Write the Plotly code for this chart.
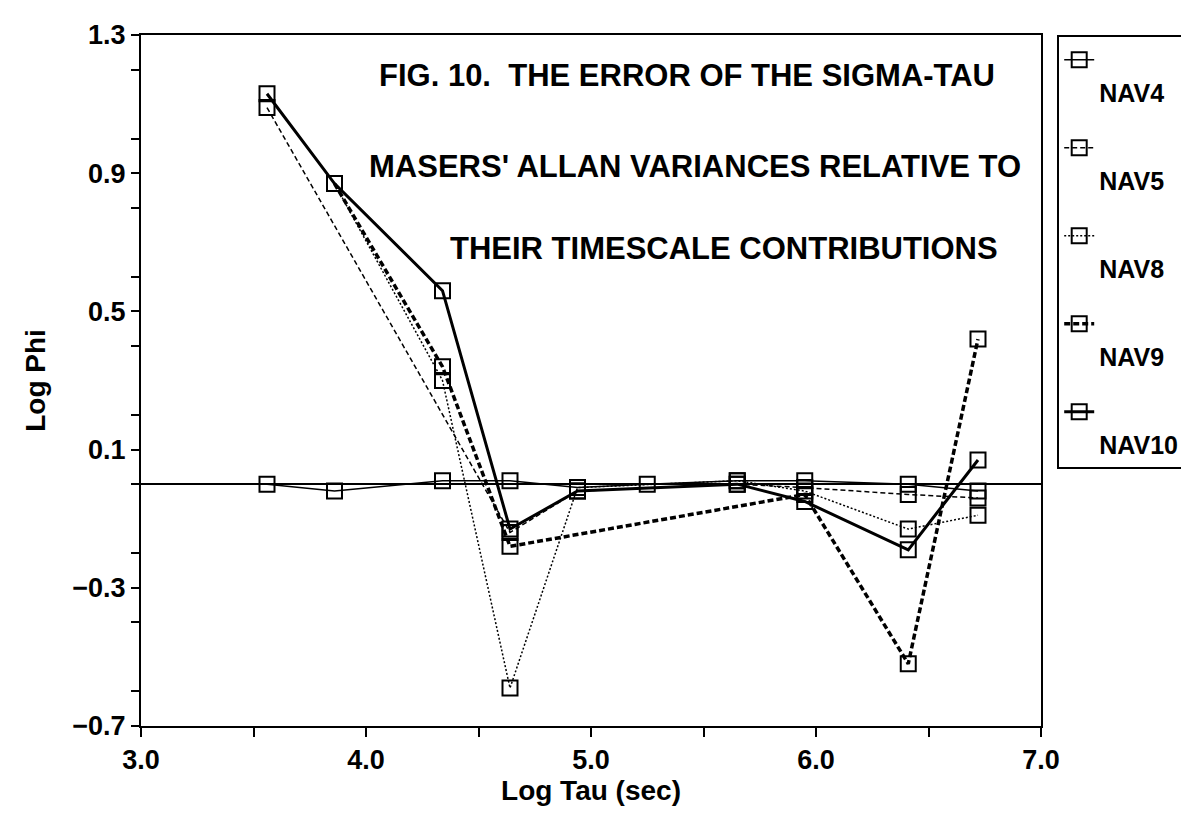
import plotly.graph_objects as go

# ---- data ----
LOG_TAU = [3.56, 3.86, 4.34, 4.64, 4.94, 5.25, 5.65, 5.95, 6.41, 6.72]

NAV4 = [0.00, -0.02, 0.01, 0.01, -0.01, 0.00, 0.01, 0.01, 0.00, -0.02]
NAV5 = [1.09, None, None, -0.14, -0.02, None, 0.00, -0.01, -0.03, -0.04]
NAV8 = [None, 0.87, 0.30, -0.59, -0.01, None, 0.01, -0.02, -0.13, -0.09]
NAV9 = [None, 0.87, 0.34, -0.18, None, None, None, -0.03, -0.52, 0.42]
NAV10 = [1.13, 0.87, 0.56, -0.13, -0.02, None, 0.00, -0.05, -0.19, 0.07]

SERIES_NAMES = ["NAV4", "NAV5", "NAV8", "NAV9", "NAV10"]
SERIES_VALUES = [NAV4, NAV5, NAV8, NAV9, NAV10]

TITLE_LINES = [
    "FIG. 10.  THE ERROR OF THE SIGMA-TAU",
    "MASERS' ALLAN VARIANCES RELATIVE TO",
    "THEIR TIMESCALE CONTRIBUTIONS",
]

# ---- styles ----
STYLES = {
    "NAV4": dict(width=1.5, dash="solid"),
    "NAV5": dict(width=1.5, dash="5px,3px"),
    "NAV8": dict(width=1.5, dash="2px,2px"),
    "NAV9": dict(width=3.5, dash="6px,3px"),
    "NAV10": dict(width=3.0, dash="solid"),
}

FONT = "Liberation Sans, Arial, Helvetica, sans-serif"

fig = go.Figure()
for name, vals in zip(SERIES_NAMES, SERIES_VALUES):
    st = STYLES[name]
    fig.add_trace(go.Scatter(
        x=LOG_TAU, y=vals, name=" <br>" + name, legendgroup=name,
        mode="lines+markers", connectgaps=True,
        line=dict(color="black", width=st["width"], dash=st["dash"]),
        marker=dict(symbol="square-open", size=15, color="black",
                    line=dict(color="black", width=2)),
    ))

title_x = [0.607, 0.615, 0.648]
title_y = [0.942, 0.809, 0.691]
for txt, tx, ty in zip(TITLE_LINES, title_x, title_y):
    fig.add_annotation(
        text=txt, x=tx, y=ty, xref="paper", yref="paper",
        xanchor="center", yanchor="middle", showarrow=False,
        font=dict(family=FONT, size=31, color="black", weight="bold"),
    )

tick_font = dict(family=FONT, size=27, color="black", weight="bold")
title_font = dict(family=FONT, size=28, color="black", weight="bold")

fig.update_xaxes(
    range=[3.0, 7.0], tick0=3.0, dtick=1.0, tickformat=".1f",
    showgrid=False, zeroline=False,
    showline=True, linecolor="black", linewidth=2, mirror=True,
    ticks="outside", ticklen=9, tickwidth=2, tickcolor="black",
    minor=dict(dtick=0.5, ticks="outside", ticklen=9, tickwidth=2, tickcolor="black"),
    tickfont=tick_font, ticklabelstandoff=0,
    title=dict(text="Log Tau (sec)", font=title_font, standoff=0),
)
fig.update_yaxes(
    range=[-0.7, 1.3], tick0=-0.7, dtick=0.4, tickformat=".1f",
    showgrid=False,
    zeroline=True, zerolinecolor="black", zerolinewidth=1.5,
    showline=True, linecolor="black", linewidth=2, mirror=True,
    ticks="outside", ticklen=8, tickwidth=2, tickcolor="black",
    minor=dict(dtick=0.2, ticks="outside", ticklen=8, tickwidth=2, tickcolor="black"),
    tickfont=tick_font,
    title=dict(text="Log Phi", font=title_font, standoff=18),
)

fig.update_layout(
    width=1189, height=815,
    margin=dict(l=133, r=141, t=23, b=97),
    plot_bgcolor="white", paper_bgcolor="white",
    font=dict(family=FONT, color="black"),
    showlegend=True,
    legend=dict(
        x=1.018, y=1.0, xanchor="left", yanchor="top",
        bordercolor="black", borderwidth=2, bgcolor="white",
        font=dict(family=FONT, size=25, color="black", weight="bold"),
        valign="top", tracegroupgap=20, itemwidth=30,
    ),
)

fig.write_html("out.html")
